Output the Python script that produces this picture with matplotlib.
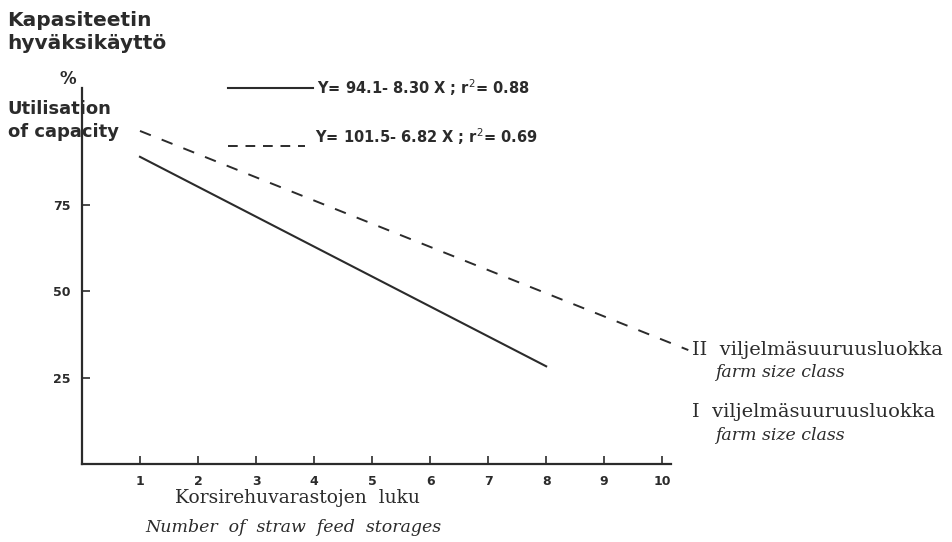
import matplotlib
matplotlib.use("Agg")
import matplotlib.pyplot as plt

# values
x_ticks = [1, 2, 3, 4, 5, 6, 7, 8, 9, 10]
y_ticks = [25, 50, 75]
solid_x = [1, 8]
solid_y = [89.0, 28.3]
dashed_x = [1, 10.45]
dashed_y = [96.5, 33.0]
eq_solid = "Y= 94.1- 8.30 X ; r$^2$= 0.88"
eq_dashed = "Y= 101.5- 6.82 X ; r$^2$= 0.69"

ink = "#2b2b2b"
sans = "DejaVu Sans"
serif = "DejaVu Serif"

fig = plt.figure(figsize=(9.53, 5.42), dpi=100)
ax = fig.add_axes([0.086, 0.144, 0.618, 0.694])
ax.set_xlim(0, 10.15)
ax.set_ylim(0, 109)

ax.plot(solid_x, solid_y, color=ink, lw=1.5)
ax.plot(dashed_x, dashed_y, color=ink, lw=1.4, ls=(0, (6, 6)), clip_on=False)

for s in ["top", "right"]:
    ax.spines[s].set_visible(False)
for s in ["left", "bottom"]:
    ax.spines[s].set_linewidth(1.6)
    ax.spines[s].set_color(ink)

ax.set_xticks(x_ticks)
ax.set_yticks(y_ticks)
ax.tick_params(direction="in", length=6, width=1.2, colors=ink, pad=8)
for lab in ax.get_xticklabels() + ax.get_yticklabels():
    lab.set_fontweight("bold")
    lab.set_fontsize(9)
    lab.set_family(sans)

# axis titles
fig.text(0.008, 0.98, "Kapasiteetin\nhyväksikäyttö", fontsize=14.5, fontweight="bold",
         color=ink, family=sans, va="top", ha="left", linespacing=1.25)
fig.text(0.062, 0.845, "%", fontsize=12, fontweight="bold", color=ink, family=sans)
fig.text(0.008, 0.815, "Utilisation\nof capacity", fontsize=13, fontweight="bold",
         color=ink, family=sans, va="top", ha="left", linespacing=1.35)

# equation key
fig.lines.append(plt.Line2D([0.239, 0.328], [0.838, 0.838], color=ink, lw=1.5,
                            transform=fig.transFigure))
fig.text(0.333, 0.838, eq_solid, fontsize=10.5, fontweight="bold", color=ink,
         family=sans, va="center")
fig.lines.append(plt.Line2D([0.239, 0.32], [0.731, 0.731], color=ink, lw=1.4,
                            ls=(0, (5, 4)), transform=fig.transFigure))
fig.text(0.331, 0.748, eq_dashed, fontsize=10.5, fontweight="bold", color=ink,
         family=sans, va="center")

# class labels
fig.text(0.726, 0.355, "II  viljelmäsuuruusluokka", fontsize=14, color=ink,
         family=serif, va="center")
fig.text(0.75, 0.313, "farm size class", fontsize=12.5, color=ink,
         family=serif, style="italic", va="center")
fig.text(0.726, 0.24, "I  viljelmäsuuruusluokka", fontsize=14, color=ink,
         family=serif, va="center")
fig.text(0.75, 0.197, "farm size class", fontsize=12.5, color=ink,
         family=serif, style="italic", va="center")

# x axis titles
fig.text(0.312, 0.081, "Korsirehuvarastojen  luku", fontsize=13.5, color=ink,
         family=serif, ha="center", va="center")
fig.text(0.308, 0.026, "Number  of  straw  feed  storages", fontsize=12.5, color=ink,
         family=serif, style="italic", ha="center", va="center")

fig.savefig("out.png", dpi=100)
